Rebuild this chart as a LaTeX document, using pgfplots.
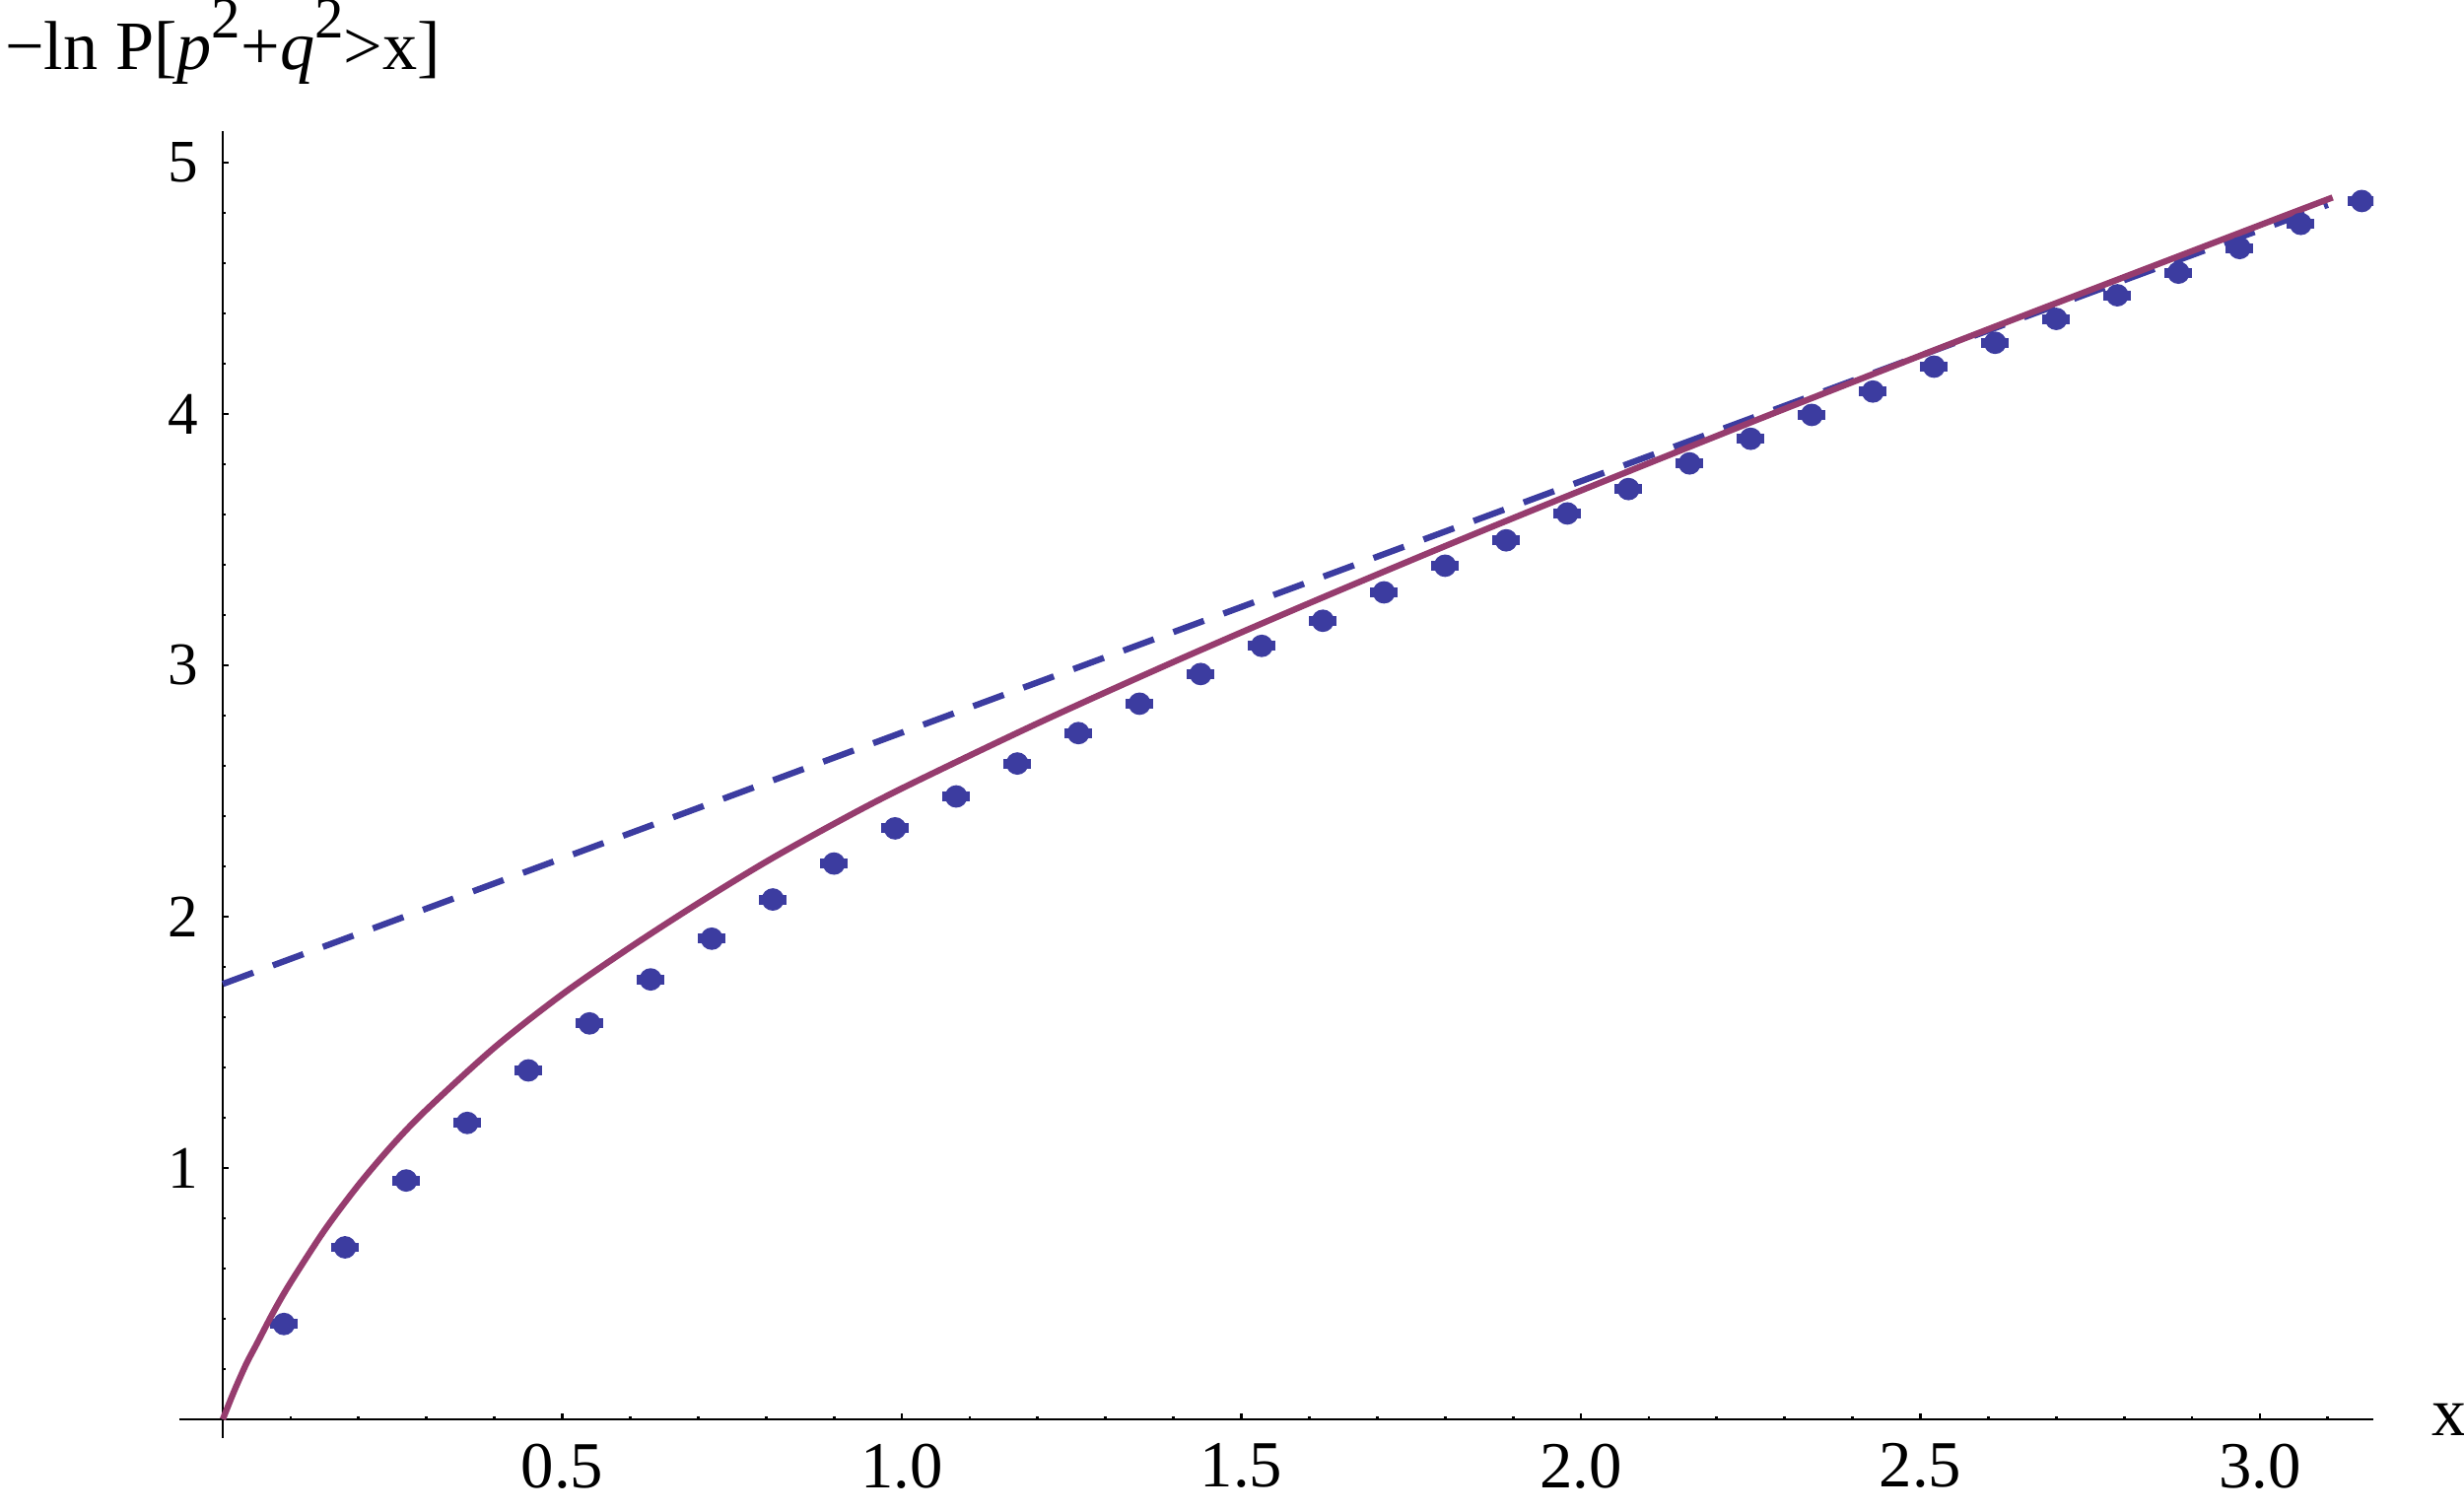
\documentclass[border=0pt]{standalone}
\usepackage{fontspec}
\setmainfont{Liberation Serif}
\usepackage{pgfplots}
\pgfplotsset{compat=1.18}
\definecolor{mblue}{RGB}{60,60,160}
\definecolor{mpurple}{RGB}{150,60,110}

\begin{document}
\begin{tikzpicture}
\useasboundingbox (-0.91,-0.37) rectangle (11.59,7.295);
\begin{axis}[
  scale only axis, width=11.13cm, height=6.63cm,
  xmin=-0.064, xmax=3.167, ymin=-0.075, ymax=5.125,
  axis lines=middle,
  axis line style={-, black, line width=0.4pt},
  xtick={0.5,1,1.5,2,2.5,3}, xticklabels={0.5,1.0,1.5,2.0,2.5,3.0},
  minor xtick={0.1,0.2,...,3.15},
  ytick={1,2,3,4,5}, yticklabels={1,2,3,4,5},
  minor ytick={0.2,0.4,...,5.05},
  tick align=inside,
  major tick length=0.8pt, minor tick length=0.45pt,
  every tick/.style={black, line width=0.4pt},
  xticklabel style={font=\fontsize{9.5}{10}\selectfont},
  yticklabel style={font=\fontsize{8.7}{9}\selectfont},
  /pgf/number format/assume math mode=true,
  every axis x label/.style={at={(axis description cs:1,0.0144)}, anchor=west, xshift=4.9pt},
  every axis y label/.style={at={(axis description cs:0.0198,1)}, anchor=south, yshift=3.3pt},
  label style={font=\fontsize{10}{11}\selectfont},
  xlabel={x},
  ylabel={−ln P[\textit{p}\raisebox{0.45em}{\fontsize{8.4}{8}\selectfont 2}+\textit{q}\raisebox{0.45em}{\fontsize{8.4}{8}\selectfont 2}>x]},
]
% simulated points
\addplot[only marks, mark=*, mark size=1.42pt, mblue,
  error bars/.cd, x dir=both, x fixed=0.0203, error mark=none,
  error bar style={line width=1.42pt, mblue}]
  table {
x y
0.09 0.379
0.18 0.684
0.27 0.950
0.36 1.179
0.45 1.388
0.54 1.575
0.63 1.750
0.72 1.912
0.81 2.068
0.90 2.211
0.99 2.351
1.08 2.478
1.17 2.609
1.26 2.730
1.35 2.847
1.44 2.965
1.53 3.077
1.62 3.177
1.71 3.290
1.80 3.396
1.89 3.497
1.98 3.604
2.07 3.701
2.16 3.803
2.25 3.901
2.34 3.996
2.43 4.089
2.52 4.188
2.61 4.283
2.70 4.378
2.79 4.472
2.88 4.562
2.97 4.660
3.06 4.756
3.15 4.847
};
% asymptote
\addplot[mblue, line width=0.9pt, dash pattern=on 4.7pt off 3pt] coordinates {
  (0,1.732) (3.10,4.832)};
% analytic curve
\addplot[mpurple, line width=0.9pt, smooth] coordinates {
  (0,0) (0.01,0.068) (0.02,0.133) (0.035,0.223) (0.05,0.30) (0.075,0.429)
  (0.10,0.545) (0.15,0.753) (0.20,0.933) (0.25,1.092) (0.30,1.232)
  (0.40,1.479) (0.50,1.691) (0.60,1.878) (0.70,2.053) (0.80,2.218)
  (0.90,2.369) (1.00,2.510) (1.20,2.769) (1.40,3.013) (1.60,3.247)
  (1.80,3.474) (2.00,3.695) (2.30,4.020) (2.60,4.337) (3.00,4.751)
  (3.107,4.861)};
\end{axis}
\end{tikzpicture}
\end{document}
